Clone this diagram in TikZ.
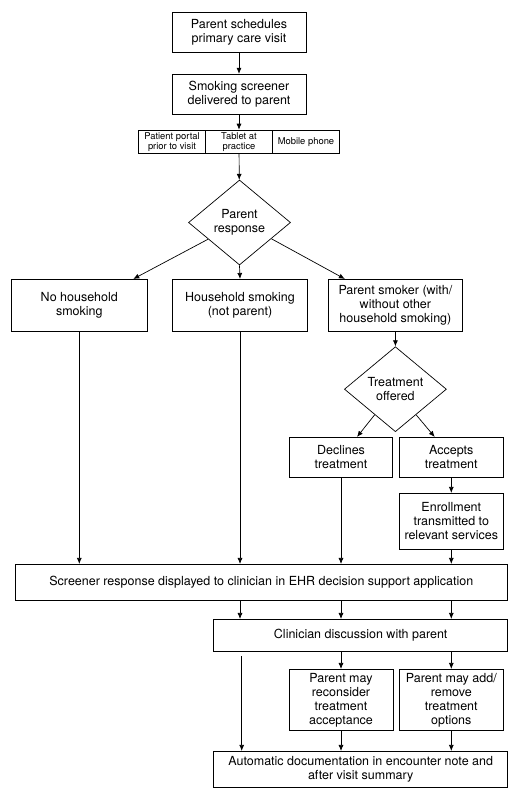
\documentclass[tikz,border=0pt]{standalone}
\usepackage{fontspec}
\setmainfont{TeX Gyre Heros}
\usetikzlibrary{shapes.geometric, arrows.meta}

\tikzset{
    box/.style={draw, line width=0.7pt, align=center, inner sep=1pt,
        font=\fontsize{12.5}{14}\selectfont},
    opt/.style={draw, line width=0.7pt, align=center, inner sep=0pt,
        minimum width=67, minimum height=23.7, font=\fontsize{9.4}{10.5}\selectfont},
    decision/.style={draw, diamond, line width=0.7pt, align=center, inner sep=0pt,
        minimum width=102, minimum height=85, font=\fontsize{12.5}{14}\selectfont},
    arr/.style={line width=0.7pt, -{Latex[length=6pt, width=5pt]}}
}

\begin{document}
\begin{tikzpicture}[x=1pt, y=-1pt]
    \useasboundingbox (0, 0) rectangle (519, 800);

    \node[box, minimum width=134, minimum height=40] (visit) at (239, 32.3) {Parent schedules\\primary care visit};
    \node[box, minimum width=134, minimum height=40] (deliv) at (239, 94.2) {Smoking screener\\delivered to parent};
    \node[opt] (portal) at (172, 141.9) {Patient portal\\prior to visit};
    \node[opt] (tablet) at (239, 141.9) {Tablet at\\practice};
    \node[opt] (phone) at (306, 141.9) {Mobile phone};
    \node[decision] (resp) at (239.5, 222.5) {Parent\\response};

    \node[box, minimum width=135.3, minimum height=52.4] (noHH) at (79.3, 305.5) {No household\\smoking};
    \node[box, minimum width=134.6, minimum height=52.4] (hh) at (240, 305.5) {Household smoking\\(not parent)};
    \node[box, minimum width=134.4, minimum height=52.4] (smoker) at (395.4, 305.5) {Parent smoker (with/\\without other\\household smoking)};
    \node[decision] (offer) at (395.4, 389.2) {Treatment\\offered};

    \node[box, minimum width=103.4, minimum height=40.4] (declines) at (341, 457.5) {Declines\\treatment};
    \node[box, minimum width=104, minimum height=40.4] (accepts) at (451.3, 457.5) {Accepts\\treatment};
    \node[box, minimum width=104, minimum height=56] (enroll) at (451.3, 521.3) {Enrollment\\transmitted to\\relevant services};

    \node[box, minimum width=492.7, minimum height=36.4] (scr) at (261.3, 582.5) {Screener response displayed to clinician in EHR decision support application};
    \node[box, minimum width=294, minimum height=32.4] (clin) at (360.7, 635.5) {Clinician discussion with parent};
    \node[box, minimum width=103.7, minimum height=61] (recon) at (341, 699.8) {Parent may\\reconsider\\treatment\\acceptance};
    \node[box, minimum width=104, minimum height=61] (addrem) at (451.3, 699.8) {Parent may add/\\remove\\treatment\\options};
    \node[box, minimum width=294, minimum height=36] (auto) at (360.7, 769.3) {Automatic documentation in encounter note and\\after visit summary};

    \draw[arr] (visit) -- (deliv);
    \draw[arr] (deliv) -- (deliv.south |- tablet.north);
    \draw[arr] (tablet) -- (resp);
    \draw[arr] (resp.208) -- ([xshift=54]noHH.north);
    \draw[arr] (resp.south) -- (hh.north);
    \draw[arr] (resp.-27) -- ([xshift=17]smoker.north west);
    \draw[arr] (smoker) -- (offer);
    \draw[arr] (offer.231) -- ([xshift=16]declines.north);
    \draw[arr] (offer.-51) -- ([xshift=-16.6]accepts.north);
    \draw[arr] (accepts) -- (enroll);

    \draw[arr] (noHH) -- (noHH.south |- scr.north);
    \draw[arr] (hh) -- (hh.south |- scr.north);
    \draw[arr] (declines) -- (declines.south |- scr.north);
    \draw[arr] (enroll) -- (enroll.south |- scr.north);

    \draw[arr] (scr.south -| hh) -- (clin.north -| hh);
    \draw[arr] (scr.south -| declines) -- (clin.north -| declines);
    \draw[arr] (scr.south -| enroll) -- (clin.north -| enroll);
    \draw[arr] (clin.south -| recon) -- (recon.north);
    \draw[arr] (clin.south -| addrem) -- (addrem.north);
    \draw[arr, shorten <=4pt] ([xshift=1.7]clin.south -| hh) -- ([xshift=1.7]auto.north -| hh);
    \draw[arr] (recon) -- (recon.south |- auto.north);
    \draw[arr] (addrem) -- (addrem.south |- auto.north);
\end{tikzpicture}
\end{document}
